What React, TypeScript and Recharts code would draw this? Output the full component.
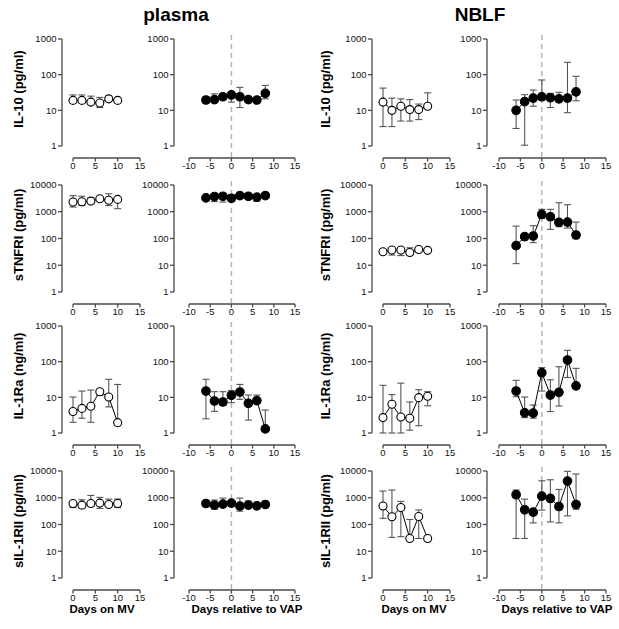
import { ComposedChart, Line, XAxis, YAxis, ErrorBar, ReferenceLine } from "recharts"

// sampling days
const mvDays = [0, 2, 4, 6, 8, 10]
const vapDays = [-6, -4, -2, 0, 2, 4, 6, 8]

const mvTicks = [0, 5, 10, 15]
const vapTicks = [-10, -5, 0, 5, 10, 15]
const ticks1000 = [1, 10, 100, 1000]
const ticks10000 = [1, 10, 100, 1000, 10000]

const rowLabels = ["IL-10 (pg/ml)", "sTNFRI (pg/ml)", "IL-1Ra (ng/ml)", "sIL-1RII (pg/ml)"]
const groupTitles = ["plasma", "NBLF"]
const xTitles = ["Days on MV", "Days relative to VAP"]

// IL-10
const plasmaIl10Mv = [19, 19, 17, 16, 21, 19]
const plasmaIl10MvLo = [16, 16, 15, 12, 19, 16]
const plasmaIl10MvHi = [27, 27, 25, 23, 23, 23]
const plasmaIl10Vap = [19.5, 20, 24, 27, 24, 20, 19.5, 30]
const plasmaIl10VapLo = [16, 17, 21, 17, 12, 18, 18, 21]
const plasmaIl10VapHi = [24, 29, 28, 33, 44, 24, 21, 50]
const nblfIl10Mv = [17, 10, 13, 10.5, 10.5, 13]
const nblfIl10MvLo = [3.5, 3.5, 5, 5, 5.5, 12]
const nblfIl10MvHi = [42, 22, 21, 20, 15, 31]
const nblfIl10Vap = [10, 17.5, 22, 24, 22.5, 21, 22, 33]
const nblfIl10VapLo = [3.1, 1.05, 13, 19.5, 12, 19, 8.6, 18.5]
const nblfIl10VapHi = [19.5, 27.5, 37, 71, 30, 32, 222, 90]

// sTNFRI
const plasmaTnfMv = [2300, 2350, 2500, 3050, 2700, 2900]
const plasmaTnfMvLo = [1500, 1700, 2100, 2600, 1700, 1300]
const plasmaTnfMvHi = [4000, 3800, 3400, 3400, 4700, 3300]
const plasmaTnfVap = [3300, 3700, 3800, 3200, 4000, 3800, 3500, 4000]
const plasmaTnfVapLo = [3000, 2400, 2300, 2900, 3700, 3500, 2500, 3700]
const plasmaTnfVapHi = [3600, 4100, 4200, 4400, 4300, 4100, 3800, 4300]
const nblfTnfMv = [32, 37, 37, 30, 39, 36]
const nblfTnfMvLo = [29, 24, 23, 26, 35, 33]
const nblfTnfMvHi = [36, 42, 45, 45, 43, 39]
const nblfTnfVap = [54, 117, 124, 800, 650, 400, 410, 135]
const nblfTnfVapLo = [11.5, 88, 70, 560, 220, 275, 245, 98]
const nblfTnfVapHi = [290, 147, 300, 1230, 1230, 2170, 1830, 410]

// IL-1Ra
const plasmaRaMv = [4.0, 4.9, 5.6, 14.4, 10.2, 1.95]
const plasmaRaMvLo = [2.0, 2.6, 2.0, 11.4, 5.4, 1.6]
const plasmaRaMvHi = [10.2, 15, 16, 16.8, 32, 23]
const plasmaRaVap = [15, 7.9, 7.4, 11.4, 14.1, 6.8, 8.1, 1.3]
const plasmaRaVapLo = [2.5, 4.05, 6, 7.1, 8.8, 2.3, 7, 1.1]
const plasmaRaVapHi = [32, 14.4, 14.4, 15.4, 23, 11.6, 11.6, 4.4]
const nblfRaMv = [2.7, 6.4, 2.8, 2.6, 9.8, 10.7]
const nblfRaMvLo = [1.0, 1.0, 1.0, 1.2, 1.6, 5.8]
const nblfRaMvHi = [21.7, 11.9, 25, 7.4, 16.4, 14.4]
const nblfRaVap = [15, 3.7, 3.6, 49, 11.6, 13.8, 111, 21]
const nblfRaVapLo = [10.4, 2.7, 2.6, 15, 4.0, 5.7, 36, 19]
const nblfRaVapHi = [30, 10.2, 6.1, 68, 31, 72, 208, 65]

// sIL-1RII
const plasmaRiiMv = [610, 530, 610, 630, 560, 610]
const plasmaRiiMvLo = [430, 400, 470, 400, 480, 430]
const plasmaRiiMvHi = [700, 840, 1220, 1030, 890, 900]
const plasmaRiiVap = [610, 530, 580, 630, 490, 530, 500, 560]
const plasmaRiiVapLo = [560, 376, 480, 560, 315, 470, 440, 470]
const plasmaRiiVapHi = [680, 820, 970, 700, 970, 750, 560, 650]
const nblfRiiMv = [490, 195, 430, 30, 200, 30]
const nblfRiiMvLo = [170, 33, 35, 28, 30, 28]
const nblfRiiMvHi = [1780, 1940, 730, 154, 350, 32]
const nblfRiiVap = [1300, 355, 290, 1150, 940, 470, 4200, 560]
const nblfRiiVapLo = [30, 30, 115, 345, 125, 115, 210, 370]
const nblfRiiVapHi = [1940, 890, 320, 4300, 4700, 2050, 9700, 7700]

const AXIS = "#4a4a4a"
const ERR = "#555"
const TICK_FONT = "'Liberation Sans Narrow', Arial, 'Liberation Sans', sans-serif"
const BOLD_FONT = "Arial, 'Liberation Sans', Helvetica, sans-serif"
const GAPY = 12
const ML = 50
const MT = 10
const MR = 10
const MB = 30

const cols = [
    { px: 73, pw: 67, gap: 11, vap: false },
    { px: 189, pw: 106, gap: 15, vap: true },
    { px: 383, pw: 67, gap: 11, vap: false },
    { px: 499, pw: 107, gap: 12, vap: true },
]
const rows = [
    { py: 39, ph: 107, ticks: ticks1000 },
    { py: 185, ph: 107, ticks: ticks10000 },
    { py: 326, ph: 107, ticks: ticks1000 },
    { py: 471, ph: 107, ticks: ticks10000 },
]

const build = (days: number[], mean: number[], lo: number[], hi: number[]) =>
    days.map((day, i) => ({ day, value: mean[i], err: [mean[i] - lo[i], hi[i] - mean[i]] }))

const panels = [
    [
        build(mvDays, plasmaIl10Mv, plasmaIl10MvLo, plasmaIl10MvHi),
        build(vapDays, plasmaIl10Vap, plasmaIl10VapLo, plasmaIl10VapHi),
        build(mvDays, nblfIl10Mv, nblfIl10MvLo, nblfIl10MvHi),
        build(vapDays, nblfIl10Vap, nblfIl10VapLo, nblfIl10VapHi),
    ],
    [
        build(mvDays, plasmaTnfMv, plasmaTnfMvLo, plasmaTnfMvHi),
        build(vapDays, plasmaTnfVap, plasmaTnfVapLo, plasmaTnfVapHi),
        build(mvDays, nblfTnfMv, nblfTnfMvLo, nblfTnfMvHi),
        build(vapDays, nblfTnfVap, nblfTnfVapLo, nblfTnfVapHi),
    ],
    [
        build(mvDays, plasmaRaMv, plasmaRaMvLo, plasmaRaMvHi),
        build(vapDays, plasmaRaVap, plasmaRaVapLo, plasmaRaVapHi),
        build(mvDays, nblfRaMv, nblfRaMvLo, nblfRaMvHi),
        build(vapDays, nblfRaVap, nblfRaVapLo, nblfRaVapHi),
    ],
    [
        build(mvDays, plasmaRiiMv, plasmaRiiMvLo, plasmaRiiMvHi),
        build(vapDays, plasmaRiiVap, plasmaRiiVapLo, plasmaRiiVapHi),
        build(mvDays, nblfRiiMv, nblfRiiMvLo, nblfRiiMvHi),
        build(vapDays, nblfRiiVap, nblfRiiVapLo, nblfRiiVapHi),
    ],
]

function YTick(props: any) {
    const { x, y, payload, gap } = props
    const ax = x - gap
    return (
        <g>
            <line x1={ax - 4} y1={y} x2={ax} y2={y} stroke={AXIS} strokeWidth={1.3} />
            <text x={ax - 5.5} y={y + 3.4} textAnchor="end" fontSize={9.5} fontFamily={TICK_FONT} fill="#111">
                {payload.value}
            </text>
        </g>
    )
}

function XTick(props: any) {
    const { x, y, payload } = props
    const ay = y + GAPY
    return (
        <g>
            <line x1={x} y1={ay} x2={x} y2={ay + 3.5} stroke={AXIS} strokeWidth={1.3} />
            <text x={x} y={ay + 10.5} textAnchor="middle" fontSize={9.5} fontFamily={TICK_FONT} fill="#111">
                {payload.value}
            </text>
        </g>
    )
}

function ZeroLine(props: any) {
    const top = Math.min(props.y1, props.y2)
    const bottom = Math.max(props.y1, props.y2)
    return (
        <line x1={props.x1} x2={props.x2} y1={top - 4} y2={bottom + GAPY} stroke="#b4b4b4" strokeWidth={1.5} strokeDasharray="5 4" />
    )
}

function Panel({ r, c }: { r: number; c: number }) {
    const col = cols[c]
    const row = rows[r]
    const data = panels[r][c]
    const filled = col.vap
    const yTicks = row.ticks
    return (
        <div style={{ position: "absolute", left: col.px - ML, top: row.py - MT }}>
            <ComposedChart
                width={col.pw + ML + MR}
                height={row.ph + MT + MB}
                data={data}
                margin={{ top: MT, right: MR, bottom: 0, left: 0 }}
            >
                <XAxis
                    type="number"
                    dataKey="day"
                    domain={col.vap ? [-10, 15] : [0, 15]}
                    ticks={col.vap ? vapTicks : mvTicks}
                    interval={0}
                    height={MB}
                    tickSize={0}
                    tickMargin={0}
                    tickLine={false}
                    axisLine={{ stroke: AXIS, strokeWidth: 1.3, transform: `translate(0,${GAPY})` }}
                    tick={(p: any) => <XTick {...p} />}
                />
                <YAxis
                    type="number"
                    scale="log"
                    domain={[1, yTicks[yTicks.length - 1]]}
                    ticks={yTicks}
                    interval={0}
                    width={ML}
                    tickSize={0}
                    tickMargin={0}
                    tickLine={false}
                    axisLine={{ stroke: AXIS, strokeWidth: 1.3, transform: `translate(${-col.gap},0)` }}
                    tick={(p: any) => <YTick {...p} gap={col.gap} />}
                />
                {col.vap && <ReferenceLine x={0} shape={(p: any) => <ZeroLine {...p} />} />}
                <Line
                    dataKey="value"
                    stroke="#000"
                    strokeWidth={1}
                    isAnimationActive={false}
                    dot={{ r: filled ? 4.3 : 4, fill: filled ? "#000" : "#fff", stroke: "#000", strokeWidth: 1.1 }}
                    activeDot={false}
                >
                    <ErrorBar dataKey="err" width={3.5} stroke={ERR} strokeWidth={1.1} direction="y" isAnimationActive={false} />
                </Line>
            </ComposedChart>
        </div>
    )
}

export default function App() {
    const labelX = [22.5, 330]
    const titleX = [176, 480]
    const xTitleX = [102, 247, 414, 557]
    return (
        <div style={{ position: "absolute", left: 0, top: 0, width: 619, height: 629, background: "#fff" }}>
            <svg width={619} height={629} style={{ position: "absolute", left: 0, top: 0 }}>
                {groupTitles.map((t, i) => (
                    <text key={t} x={titleX[i]} y={21} textAnchor="middle" fontSize={19} fontWeight="bold" fontFamily={BOLD_FONT} fill="#000">
                        {t}
                    </text>
                ))}
                {rows.map((row, r) =>
                    labelX.map((lx, k) => {
                        const cy = row.py + row.ph / 2 - 3.5
                        return (
                            <text
                                key={`${r}-${k}`}
                                x={lx}
                                y={cy}
                                transform={`rotate(-90 ${lx} ${cy})`}
                                textAnchor="middle"
                                fontSize={13}
                                fontWeight="bold"
                                fontFamily={BOLD_FONT}
                                fill="#000"
                            >
                                {rowLabels[r]}
                            </text>
                        )
                    })
                )}
                {xTitleX.map((tx, i) => (
                    <text key={i} x={tx} y={613} textAnchor="middle" fontSize={11.5} fontWeight="bold" fontFamily={BOLD_FONT} fill="#000">
                        {xTitles[i % 2]}
                    </text>
                ))}
            </svg>
            {rows.map((_, r) => cols.map((_, c) => <Panel key={`${r}-${c}`} r={r} c={c} />))}
        </div>
    )
}
